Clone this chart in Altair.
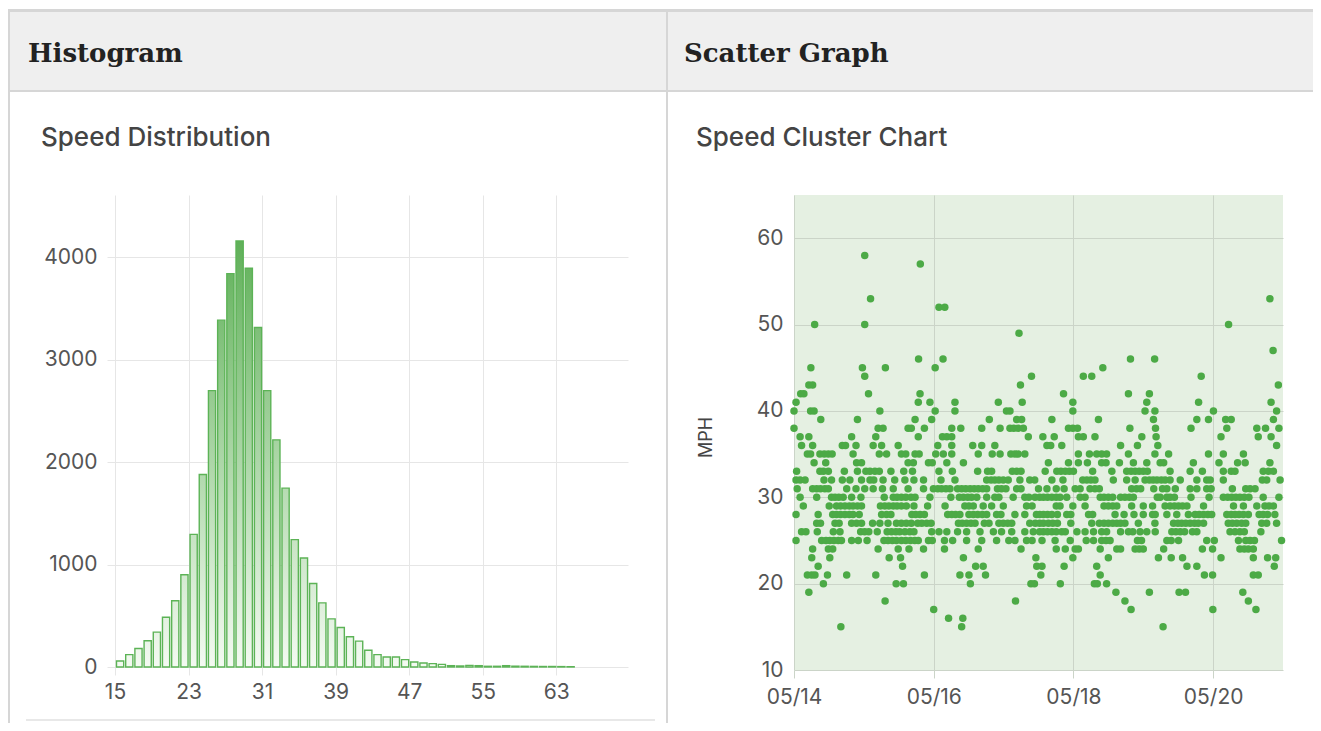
import altair as alt
import pandas as pd

# ---------------- data ----------------
hist_bin_start = list(range(15, 65))
hist_counts = [59, 121, 180, 256, 340, 485, 647, 900, 1294, 1878,
               2696, 3384, 3838, 4156, 3890, 3312, 2696, 2216, 1745, 1243,
               1064, 814, 626, 470, 386, 295, 252, 164, 121, 98,
               98, 72, 49, 39, 33, 26, 13, 10, 16, 13,
               7, 7, 13, 8, 7, 6, 5, 5, 4, 3]
hist_ticks = [15, 23, 31, 39, 47, 55, 63]
count_ticks = [0, 1000, 2000, 3000, 4000]

# scatter: speed (mph) -> hours after 05/14 00:00 of each reading
scatter_rows = {
    58: [24.3],
    57: [43.4],
    53: [26.3, 163.5],
    52: [49.8, 51.8],
    50: [7.1, 24.3, 149.3],
    49: [77.3],
    47: [164.6],
    46: [42.8, 51.2, 115.6, 123.9],
    45: [5.8, 23.5, 31.4, 48.5, 106.1],
    44: [24.3, 81.6, 99.4, 102.3, 139.9],
    43: [5.1, 6.4, 77.8, 166.4],
    42: [2.3, 3.4, 25.6, 43.3, 92.6, 114.9, 122.1],
    41: [0.7, 42.7, 46.7, 55.3, 70.2, 78.4, 95.8, 121.2, 139.0, 163.9],
    40: [0.0, 5.7, 6.9, 29.5, 48.5, 55.3, 73.0, 74.2, 95.8, 120.6, 124.0, 144.1, 165.8],
    39: [9.2, 21.8, 41.6, 47.3, 67.1, 76.5, 78.2, 88.6, 104.6, 123.5, 138.4, 142.4,
         148.3, 150.2, 164.7],
    38: [0.0, 28.9, 30.6, 39.2, 40.3, 44.8, 54.2, 57.3, 64.5, 70.8, 74.2, 75.5, 77.0,
         78.8, 94.3, 95.8, 97.4, 115.4, 124.2, 136.4, 148.7, 159.0, 162.0, 166.6],
    37: [2.1, 5.1, 19.8, 28.1, 42.7, 51.0, 52.5, 54.2, 80.5, 85.5, 89.4, 97.7, 99.4,
         103.4, 119.5, 124.4, 146.7, 159.5, 163.9],
    36: [2.6, 6.4, 16.6, 17.7, 21.3, 27.2, 30.1, 35.8, 49.4, 54.2, 61.4, 64.5, 69.0,
         86.9, 88.2, 92.0, 112.2, 118.0, 125.0, 165.8],
    35: [4.6, 5.7, 8.9, 10.4, 11.8, 13.1, 20.3, 29.3, 31.8, 36.9, 38.4, 41.6, 43.0,
         48.7, 51.3, 54.2, 63.3, 68.1, 70.8, 74.5, 75.9, 77.0, 79.3, 97.7, 101.5,
         104.0, 105.7, 107.4, 114.9, 124.0, 128.7, 142.4, 147.5, 154.4],
    34: [6.9, 10.9, 21.5, 23.2, 39.2, 41.0, 46.2, 47.5, 52.5, 58.2, 87.4, 94.3, 97.7,
         100.8, 105.7, 107.2, 111.8, 116.6, 121.2, 125.8, 127.0, 137.2, 146.0, 152.4,
         155.0, 163.5],
    33: [0.9, 8.9, 10.1, 11.8, 17.3, 21.8, 24.7, 26.1, 27.8, 29.3, 33.3, 37.7, 40.7,
         49.8, 54.4, 63.1, 66.5, 67.9, 75.0, 76.5, 78.0, 86.3, 90.3, 91.7, 93.2, 94.6,
         96.0, 102.6, 109.2, 114.3, 115.8, 117.2, 118.6, 120.0, 121.4, 129.2, 136.1,
         140.3, 147.5, 150.2, 151.5, 161.2, 163.0, 164.7],
    32: [0.7, 2.1, 3.8, 10.3, 12.9, 16.6, 19.2, 23.2, 26.1, 27.4, 30.6, 34.6, 38.1,
         41.2, 44.5, 50.5, 55.3, 66.2, 67.7, 69.0, 70.4, 71.9, 73.6, 77.6, 81.0, 82.7,
         88.6, 92.4, 99.2, 100.6, 102.0, 103.4, 109.7, 114.3, 117.2, 120.6, 122.1,
         123.4, 124.7, 126.2, 127.5, 129.2, 132.7, 138.4, 141.8, 143.0, 147.5, 160.9,
         162.4, 167.0],
    31: [1.1, 6.4, 7.8, 9.1, 10.6, 11.8, 18.1, 21.3, 24.3, 27.2, 30.4, 34.1, 39.2,
         44.5, 47.9, 49.4, 50.7, 52.2, 53.6, 56.2, 57.6, 59.0, 60.5, 61.9, 63.3, 64.8,
         66.2, 69.9, 71.3, 72.8, 76.5, 78.0, 84.0, 86.9, 90.1, 92.8, 96.6, 98.3, 101.7,
         103.4, 104.9, 116.0, 117.7, 119.1, 123.6, 126.6, 128.1, 131.0, 136.1, 138.4,
         141.8, 143.3, 150.6, 155.2, 156.7, 158.4],
    30: [2.1, 7.8, 12.9, 14.1, 15.4, 16.9, 19.8, 23.0, 31.0, 34.1, 35.4, 36.9, 38.4,
         40.2, 41.6, 46.7, 53.9, 56.8, 58.2, 59.7, 61.0, 62.8, 66.2, 69.0, 70.4, 75.3,
         79.3, 80.7, 82.8, 84.4, 85.7, 87.1, 88.6, 90.1, 91.4, 93.7, 98.3, 100.0, 105.2,
         106.5, 108.0, 109.5, 112.2, 113.7, 115.2, 116.6, 124.8, 125.8, 128.1, 129.2,
         130.7, 136.4, 142.6, 147.5, 149.0, 150.4, 151.8, 153.2, 154.7, 156.3, 161.2,
         166.6],
    29: [3.2, 12.1, 14.6, 16.0, 17.5, 19.0, 20.3, 21.8, 23.2, 29.7, 31.2, 32.6, 34.1,
         35.4, 36.9, 38.6, 41.2, 45.9, 51.9, 58.7, 60.1, 61.6, 65.0, 67.9, 71.9, 79.9,
         81.8, 90.1, 91.4, 95.8, 100.0, 106.5, 108.0, 109.5, 110.9, 116.0, 120.0, 123.2,
         127.5, 129.2, 130.7, 132.1, 133.5, 135.0, 140.7, 151.0, 154.4, 159.0, 161.8,
         163.2, 164.7],
    28: [0.7, 8.3, 13.3, 14.6, 16.0, 17.5, 19.0, 20.3, 22.4, 30.1, 31.8, 33.3, 40.5,
         41.8, 43.3, 44.8, 52.8, 54.2, 55.5, 57.0, 60.1, 61.6, 63.1, 64.7, 66.2, 69.6,
         71.1, 75.9, 79.3, 83.3, 84.4, 85.7, 87.1, 88.6, 90.5, 93.7, 95.1, 101.2, 102.6,
         110.3, 113.4, 116.8, 120.0, 123.2, 124.1, 128.1, 131.5, 135.5, 137.8, 139.2,
         140.7, 142.2, 143.5, 148.7, 150.2, 151.5, 152.9, 154.4, 156.1, 159.8, 161.2,
         162.7, 165.2],
    27: [7.8, 9.1, 14.1, 15.5, 19.8, 21.5, 23.2, 27.0, 29.5, 32.3, 35.2, 36.9, 38.6,
         40.3, 42.5, 43.9, 45.6, 47.1, 56.5, 57.8, 59.3, 60.8, 62.2, 65.4, 67.0, 70.4,
         71.9, 73.4, 74.8, 81.0, 82.9, 84.4, 85.7, 87.4, 88.9, 90.5, 95.1, 102.3, 104.9,
         106.5, 108.0, 109.5, 110.9, 112.2, 113.7, 118.3, 124.0, 130.4, 131.9, 133.2,
         134.6, 136.1, 137.6, 138.9, 140.7, 149.2, 150.6, 152.1, 153.8, 155.2, 160.7,
         162.4, 165.8],
    26: [2.6, 4.1, 8.0, 13.5, 15.8, 22.9, 24.3, 25.7, 28.6, 32.0, 33.5, 35.0, 36.3,
         38.1, 39.8, 41.2, 47.3, 49.8, 52.5, 56.2, 59.3, 63.9, 68.5, 71.3, 74.8, 79.3,
         82.2, 84.4, 85.7, 87.1, 88.6, 90.1, 92.0, 93.2, 97.2, 100.0, 102.9, 105.7,
         107.4, 112.2, 114.9, 116.4, 118.9, 121.2, 124.1, 129.8, 131.2, 132.7, 134.2,
         136.9, 138.4, 149.8, 151.5, 153.2, 154.7, 160.4],
    25: [0.7, 9.5, 11.0, 12.3, 13.7, 15.2, 16.3, 19.8, 22.1, 25.1, 30.9, 32.3, 33.8,
         35.2, 36.9, 38.4, 40.0, 41.5, 42.7, 46.2, 47.5, 51.7, 54.5, 59.3, 64.5, 69.6,
         73.8, 75.9, 79.9, 81.8, 85.2, 89.7, 94.9, 100.4, 102.9, 105.7, 107.2, 108.6,
         118.0, 119.4, 128.1, 129.6, 132.1, 141.8, 144.4, 152.7, 155.2, 156.7, 158.2,
         167.5],
    24: [6.4, 11.8, 13.3, 28.9, 35.8, 39.5, 44.5, 51.7, 63.3, 78.0, 90.1, 93.2, 96.6,
         97.7, 105.2, 110.9, 112.2, 117.2, 118.6, 120.0, 127.0, 140.3, 143.8, 153.2,
         154.7, 156.1, 157.8],
    23: [6.1, 12.3, 32.7, 36.6, 58.2, 83.1, 95.8, 108.0, 125.2, 129.6, 133.5, 146.7,
         157.8, 162.7, 165.5],
    22: [8.3, 37.3, 62.4, 65.0, 83.4, 85.2, 92.8, 104.0, 135.0, 138.4, 165.0],
    21: [4.6, 6.1, 7.2, 11.5, 18.1, 28.1, 44.8, 57.0, 60.1, 65.8, 84.8, 105.2, 141.0,
         143.8, 157.8, 159.5],
    20: [10.1, 35.1, 37.6, 60.6, 81.4, 82.6, 91.5, 103.2, 104.2, 107.4],
    19: [5.1, 110.6, 122.1, 132.3, 134.5, 154.2],
    18: [31.3, 76.1, 113.7, 156.1],
    17: [48.0, 115.8, 143.9, 158.7],
    16: [53.1, 58.0],
    15: [16.1, 57.6, 126.8],
}
mph_ticks = [10, 20, 30, 40, 50, 60]
date_ticks = [(2024, 5, 14), (2024, 5, 16), (2024, 5, 18), (2024, 5, 20)]
date_domain = [(2024, 5, 14), (2024, 5, 21)]

# ---------------- styling ----------------
SANS = "Inter"
SERIF = "DejaVu Serif"
GRID = "#e6e6e6"
GRID2 = "#cbd4c8"
LABEL = "#555555"
OX, OY = 115, 195          # page position of the histogram plot origin
Y_TOP = 4605
C0 = (244, 250, 242)
C1 = (80, 168, 72)


def hexcol(frac):
    frac = max(0.0, min(1.0, frac))
    r, g, b = (round(a + (c - a) * frac) for a, c in zip(C0, C1))
    return f"#{r:02x}{g:02x}{b:02x}"


hist_values = []
for b, c in zip(hist_bin_start, hist_counts):
    hist_values.append({
        "x0": b, "x1": b + 1, "count": c,
        "grad": {"gradient": "linear", "x1": 0, "y1": 1, "x2": 0, "y2": 0,
                 "stops": [{"offset": 0, "color": hexcol(0)},
                           {"offset": 1, "color": hexcol(c / Y_TOP)}]},
    })

base = pd.Timestamp("2024-05-14")
scatter_values = []
for mph, hours in scatter_rows.items():
    for h in hours:
        t = base + pd.Timedelta(hours=h)
        scatter_values.append({"time": t.strftime("%Y-%m-%dT%H:%M:%S"), "mph": mph})


def dt(t):
    return alt.DateTime(year=t[0], month=t[1], date=t[2])


one = alt.Data(values=[{"k": 0}])


def box(x0, y0, x1, y1, color):
    return alt.Chart(one).mark_rect(color=color).encode(
        x=alt.value(x0 - OX), x2=alt.value(x1 - OX),
        y=alt.value(y0 - OY), y2=alt.value(y1 - OY))


def label(text, x, y, font, size, weight, color):
    return alt.Chart(one).mark_text(
        text=text, align="left", baseline="alphabetic", font=font,
        fontSize=size, fontWeight=weight, color=color).encode(
        x=alt.value(x - OX), y=alt.value(y - OY))


frame = [
    box(8, 11, 1313, 91, "#efefef"),
    box(8, 9, 1313, 12, "#d6d6d6"),
    box(8, 90, 1313, 92, "#d6d6d6"),
    box(8, 9, 10, 723, "#d6d6d6"),
    box(666, 9, 668, 723, "#d6d6d6"),
    box(26, 719, 655, 721, "#e8e8e8"),
    label("Histogram", 28, 62, SERIF, 26, "bold", "#222222"),
    label("Scatter Graph", 684, 62, SERIF, 26, "bold", "#222222"),
    label("Speed Distribution", 41, 146, SANS, 26, 500, "#444444"),
    label("Speed Cluster Chart", 696, 146, SANS, 26, 500, "#444444"),
]

bars = alt.Chart(alt.Data(values=hist_values)).mark_bar(
    stroke="#5cb356", strokeWidth=1.4, binSpacing=2).encode(
    x=alt.X("x0:Q", bin="binned",
            scale=alt.Scale(domain=[15, 70.8], nice=False, zero=False),
            axis=alt.Axis(values=hist_ticks, title=None, grid=True, gridColor=GRID,
                          domain=False, tickColor=GRID, tickSize=8, labelPadding=6,
                          labelFont=SANS, labelFontSize=21, labelColor=LABEL,
                          labelFlush=False, labelOverlap=False, format="d")),
    x2="x1:Q",
    y=alt.Y("count:Q", scale=alt.Scale(domain=[0, Y_TOP], nice=False),
            axis=alt.Axis(values=count_ticks, title=None, grid=True, gridColor=GRID,
                          domain=False, tickColor=GRID, tickSize=8, labelPadding=10,
                          labelFont=SANS, labelFontSize=21, labelColor=LABEL,
                          format="d")),
    fill=alt.Fill("grad:N", scale=None),
)

left = alt.layer(*frame, bars).properties(width=513, height=472)

right = alt.Chart(alt.Data(values=scatter_values)).mark_circle(
    size=56, color="#4caa46", opacity=1).encode(
    x=alt.X("time:T",
            scale=alt.Scale(domain=[dt(d) for d in date_domain], nice=False),
            axis=alt.Axis(values=[dt(d) for d in date_ticks], format="%m/%d",
                          title=None, grid=True, gridColor=GRID2, domain=False,
                          tickColor=GRID2, tickSize=8, labelPadding=8,
                          labelFont=SANS, labelFontSize=21, labelColor=LABEL,
                          labelFlush=False, labelOverlap=False)),
    y=alt.Y("mph:Q", scale=alt.Scale(domain=[10, 65], nice=False, zero=False),
            axis=alt.Axis(values=mph_ticks, title="MPH", grid=True, gridColor=GRID2,
                          domain=False, ticks=False, labelPadding=11,
                          labelFont=SANS, labelFontSize=21, labelColor=LABEL,
                          titleFont=SANS, titleFontSize=18, titleFontWeight="normal",
                          titleColor="#444444", titleX=-88, titleY=242,
                          titleAngle=270, titleAlign="center",
                          titleBaseline="middle")),
).properties(width=489, height=475,
             view=alt.ViewBackground(fill="#e5f0e2", strokeWidth=0))

chart = alt.hconcat(left, right, spacing=166, bounds="flush").properties(
    padding={"left": 0, "top": 1, "right": 0, "bottom": 0},
    background="white",
).configure_view(strokeWidth=0)

chart.save("out.html", embed_options={"renderer": "svg", "actions": False})
